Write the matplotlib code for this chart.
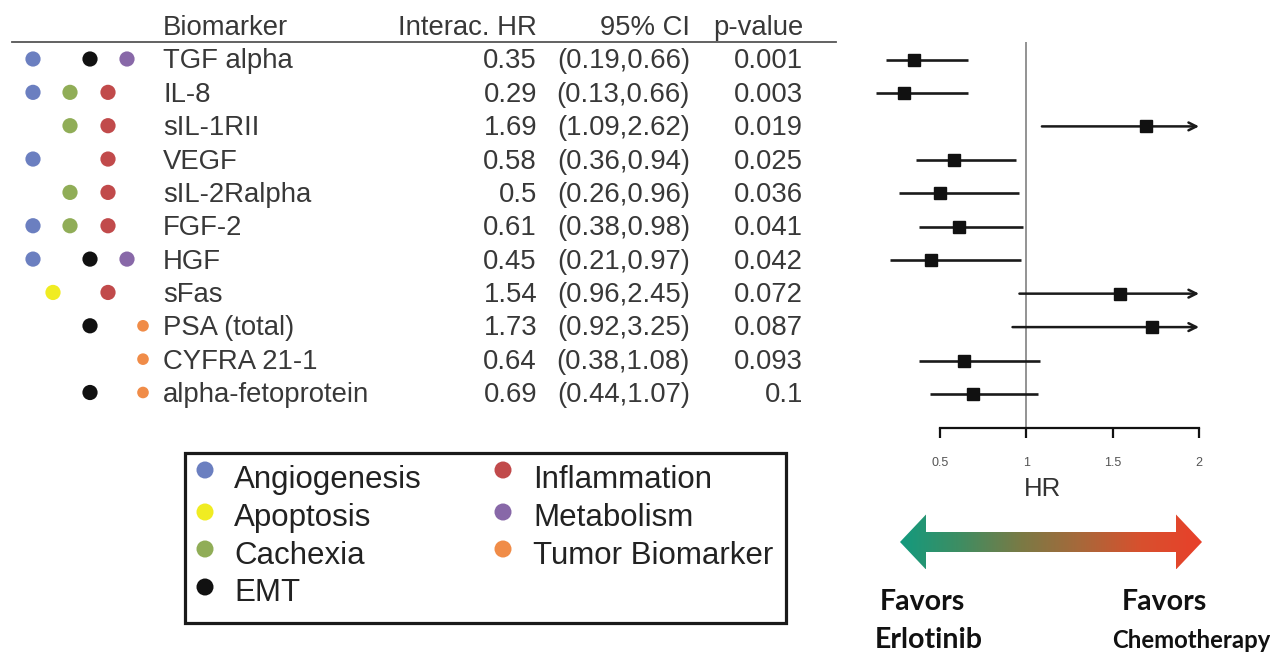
import matplotlib
matplotlib.use("Agg")
import matplotlib.pyplot as plt
import numpy as np
from matplotlib.patches import Rectangle, PathPatch
from matplotlib.path import Path
from matplotlib.colors import LinearSegmentedColormap

# ---------------- data ----------------
biomarkers = ["TGF alpha", "IL-8", "sIL-1RII", "VEGF", "sIL-2Ralpha", "FGF-2",
              "HGF", "sFas", "PSA (total)", "CYFRA 21-1", "alpha-fetoprotein"]
hr = [0.35, 0.29, 1.69, 0.58, 0.5, 0.61, 0.45, 1.54, 1.73, 0.64, 0.69]
ci_lo = [0.19, 0.13, 1.09, 0.36, 0.26, 0.38, 0.21, 0.96, 0.92, 0.38, 0.44]
ci_hi = [0.66, 0.66, 2.62, 0.94, 0.96, 0.98, 0.97, 2.45, 3.25, 1.08, 1.07]
pvals = ["0.001", "0.003", "0.019", "0.025", "0.036", "0.041", "0.042",
         "0.072", "0.087", "0.093", "0.1"]

categories = ["Angiogenesis", "Apoptosis", "Cachexia", "EMT",
              "Inflammation", "Metabolism", "Tumor Biomarker"]
cat_colors = ["#6b7fc0", "#f0ec22", "#90ad57", "#111111",
              "#c14a4b", "#8868a8", "#f08c48"]
membership = [
    ["Angiogenesis", "EMT", "Metabolism"],
    ["Angiogenesis", "Cachexia", "Inflammation"],
    ["Cachexia", "Inflammation"],
    ["Angiogenesis", "Inflammation"],
    ["Cachexia", "Inflammation"],
    ["Angiogenesis", "Cachexia", "Inflammation"],
    ["Angiogenesis", "EMT", "Metabolism"],
    ["Apoptosis", "Inflammation"],
    ["EMT", "Tumor Biomarker"],
    ["Tumor Biomarker"],
    ["EMT", "Tumor Biomarker"],
]
headers = ["Biomarker", "Interac. HR", "95% CI", "p-value"]
hr_ticks = [0.5, 1, 1.5, 2]
hr_ticklabels = ["0.5", "1", "1.5", "2"]

# ---------------- layout ----------------
W, H = 1270, 653
fig = plt.figure(figsize=(12.7, 6.53), dpi=100)
ax = fig.add_axes([0, 0, 1, 1])
ax.set_xlim(0, W)
ax.set_ylim(H, 0)
ax.axis("off")

FONT = "Liberation Sans"
TXT = "#383838"
FS = 19.8

row0, rowstep = 61.5, 33.35
def row_y(i):
    return row0 + i * rowstep

# header
hx = {"Biomarker": (163, "left"), "Interac. HR": (537, "right"),
      "95% CI": (690, "right"), "p-value": (803, "right")}
for h in headers:
    x, ha = hx[h]
    ax.text(x, 28, h, ha=ha, va="center", fontsize=FS, family=FONT, color=TXT)
ax.plot([12, 836], [42, 42], color="#555555", lw=1.3)

# category dot columns
col_x = {"Angiogenesis": 33, "Apoptosis": 53, "Cachexia": 70, "EMT": 90,
         "Inflammation": 108, "Metabolism": 127, "Tumor Biomarker": 143}
color_of = dict(zip(categories, cat_colors))

for i, name in enumerate(biomarkers):
    y = row_y(i)
    ax.text(163, y, name, ha="left", va="center", fontsize=FS, family=FONT, color=TXT)
    ax.text(537, y, str(hr[i]), ha="right", va="center", fontsize=FS, family=FONT, color=TXT)
    ax.text(690, y, f"({ci_lo[i]:.2f},{ci_hi[i]:.2f})", ha="right", va="center",
            fontsize=FS, family=FONT, color=TXT)
    ax.text(803, y, pvals[i], ha="right", va="center", fontsize=FS, family=FONT, color=TXT)
    for c in membership[i]:
        s = 70 if c == "Tumor Biomarker" else 120
        ax.scatter(col_x[c], y - 2.5, s=s, color=color_of[c], edgecolors="none", zorder=3)

# legend box
ax.add_patch(Rectangle((185, 453), 601, 170, fill=False, lw=2.3, edgecolor="#1a1a1a"))
leg_cols = [["Angiogenesis", "Apoptosis", "Cachexia", "EMT"],
            ["Inflammation", "Metabolism", "Tumor Biomarker"]]
leg_dot_x = [205, 503]
leg_txt_x = [234, 533]
leg_base = [488, 526, 564, 601]
leg_dot_y = [470, 512, 549, 587]
for ci_, col in enumerate(leg_cols):
    for k, c in enumerate(col):
        ax.scatter(leg_dot_x[ci_], leg_dot_y[k], s=150, color=color_of[c],
                   edgecolors="none", zorder=3)
        ax.text(leg_txt_x[ci_], leg_base[k], c, ha="left", va="baseline",
                fontsize=22.5, family=FONT, color="#222222")

# ---------------- forest plot ----------------
px0, pxscale = 940.0, 172.7   # pixel of HR=0.5, pixels per HR unit
FL, FR, FT, FB = 860, 1225, 30, 480
fy0, fstep = 59.5, 33.45
fax = fig.add_axes([FL / W, 1 - FB / H, (FR - FL) / W, (FB - FT) / H])
fax.set_xlim(0.5 + (FL - px0) / pxscale, 0.5 + (FR - px0) / pxscale)
fax.set_ylim((FB - fy0) / fstep, (FT - fy0) / fstep)
fax.patch.set_alpha(0)
for sp in ["top", "right", "left"]:
    fax.spines[sp].set_visible(False)
axis_row = (428 - fy0) / fstep
fax.spines["bottom"].set_position(("data", axis_row))
fax.spines["bottom"].set_bounds(hr_ticks[0], hr_ticks[-1])
fax.spines["bottom"].set_linewidth(1.6)
fax.spines["bottom"].set_color("#111111")
fax.set_yticks([])
fax.set_xticks(hr_ticks)
fax.set_xticklabels(hr_ticklabels, fontsize=9, family=FONT, color="#555555")
fax.tick_params(axis="x", direction="out", length=7, width=1.6, color="#111111", pad=14)
fax.set_xlabel("HR", fontsize=18.5, family=FONT, color="#333333", labelpad=6)

fax.vlines(1, (42 - fy0) / fstep, axis_row, color="#808080", lw=1.2, zorder=1)

xmax_clip = hr_ticks[-1]
for i in range(len(biomarkers)):
    if ci_hi[i] > xmax_clip:
        fax.annotate("", xy=(xmax_clip, i), xytext=(ci_lo[i], i),
                     arrowprops=dict(arrowstyle="->", lw=1.8, color="#1a1a1a",
                                     mutation_scale=14, shrinkA=0, shrinkB=0))
    else:
        fax.hlines(i, ci_lo[i], ci_hi[i], color="#1a1a1a", lw=1.9, zorder=2)
    fax.plot(hr[i], i, marker="s", ms=8.5, color="#111111", zorder=3)

# ---------------- gradient double arrow ----------------
xl, xr, yc = 900, 1202, 542
hh, sh, hl = 27.5, 10, 26
verts = [(xl, yc), (xl + hl, yc - hh), (xl + hl, yc - sh), (xr - hl, yc - sh),
         (xr - hl, yc - hh), (xr, yc), (xr - hl, yc + hh), (xr - hl, yc + sh),
         (xl + hl, yc + sh), (xl + hl, yc + hh), (xl, yc)]
codes = [Path.MOVETO] + [Path.LINETO] * (len(verts) - 2) + [Path.CLOSEPOLY]
arrow_path = Path(verts, codes)
patch = PathPatch(arrow_path, facecolor="none", edgecolor="none")
ax.add_patch(patch)
cmap = LinearSegmentedColormap.from_list(
    "fav", ["#139a7e", "#3f8d62", "#7a7a45", "#a8683a", "#d8502e", "#e8402a"])
grad = np.linspace(0, 1, 256).reshape(1, -1)
im = ax.imshow(grad, cmap=cmap, aspect="auto", extent=(xl, xr, yc + hh, yc - hh),
               zorder=2, interpolation="bilinear")
im.set_clip_path(patch)
ax.set_xlim(0, W)
ax.set_ylim(H, 0)

# Favors labels
BF = "Lato"
lab_kw = dict(ha="left", va="baseline", family=BF, fontweight="bold", color="#111111")
ax.text(880, 610, "Favors", fontsize=20.5, **lab_kw)
ax.text(875, 648, "Erlotinib", fontsize=20.5, **lab_kw)
ax.text(1122, 610, "Favors", fontsize=20.5, **lab_kw)
ax.text(1112, 648, "Chemotherapy", fontsize=17.2, **lab_kw)

fig.savefig("out.png", dpi=100)
